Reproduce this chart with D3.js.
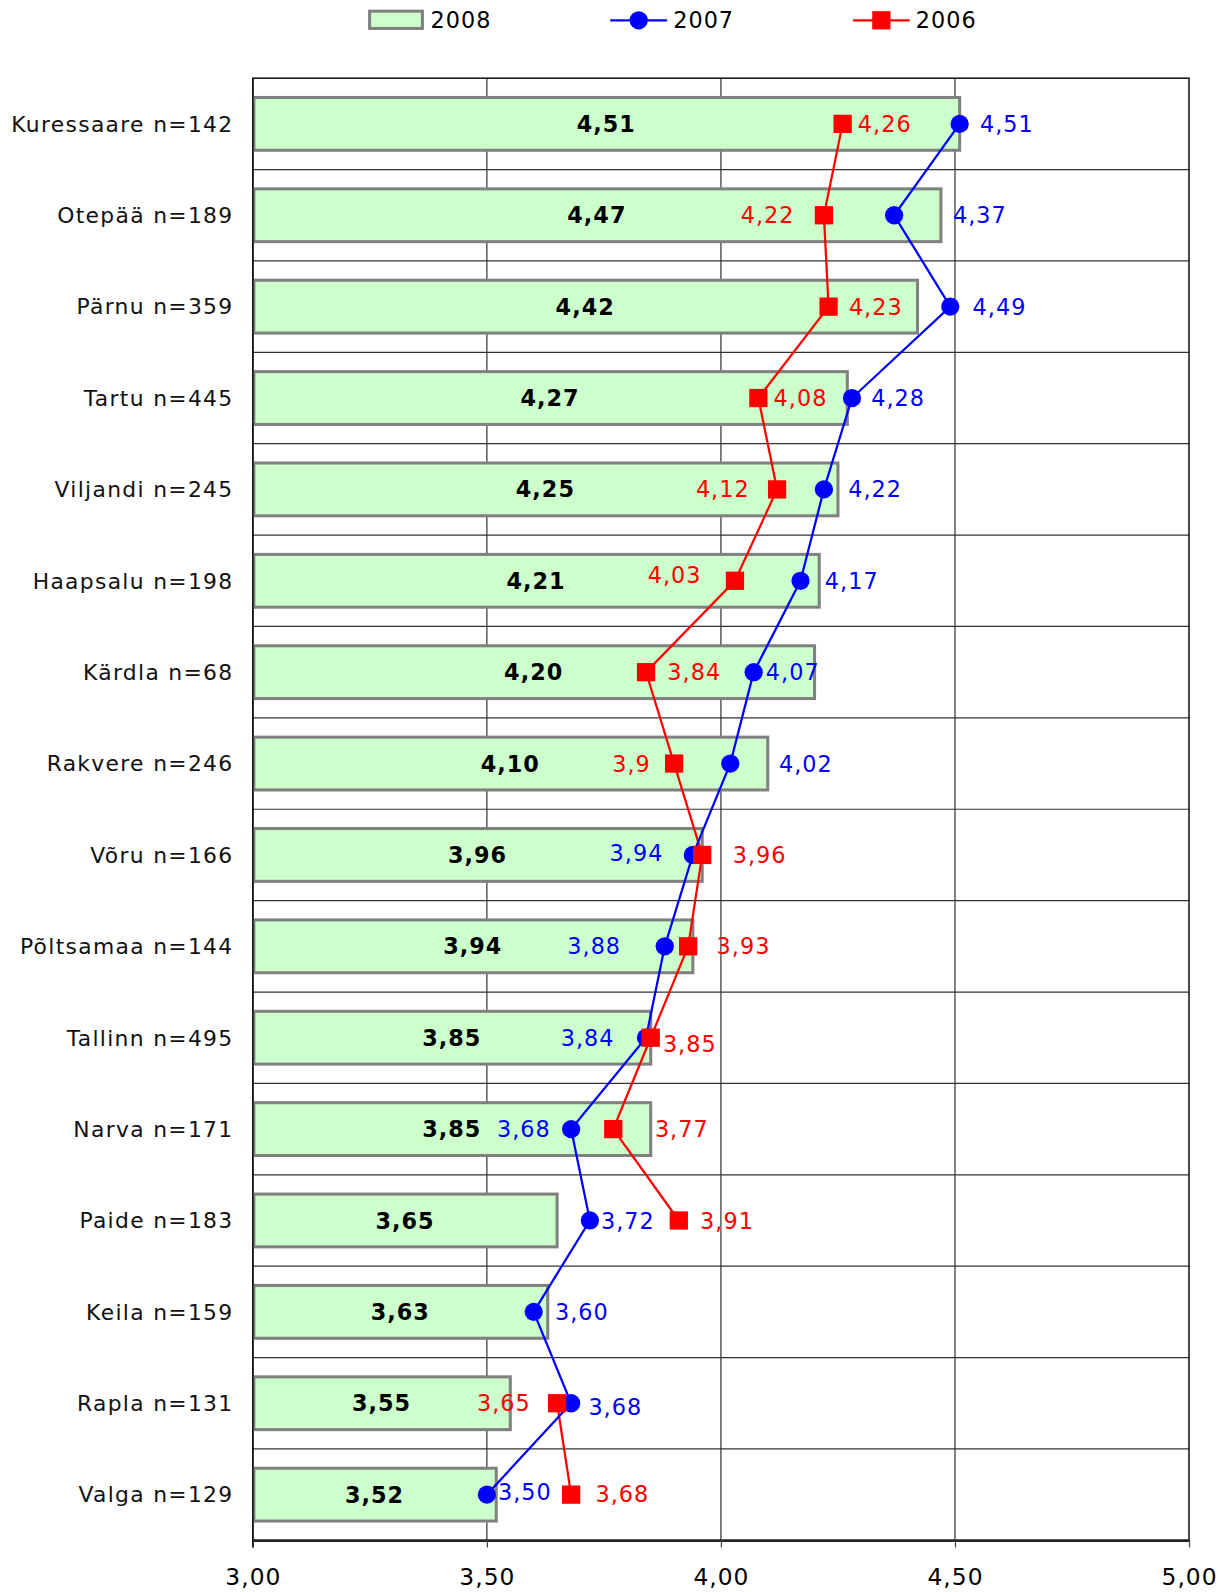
<!DOCTYPE html>
<html><head><meta charset="utf-8">
<script src="https://cdn.jsdelivr.net/npm/d3@7"></script>
<style>html,body{margin:0;padding:0;background:#fff;overflow:hidden;width:1227px;height:1592px;} svg{display:block;font-family:"DejaVu Sans",Verdana,sans-serif;}</style>
</head><body><svg id="c" width="1227" height="1592" viewBox="0 0 1208.4 1567.9" preserveAspectRatio="none"></svg>
<script>
const categories = ["Kuressaare n=142","Otepää n=189","Pärnu n=359","Tartu n=445","Viljandi n=245","Haapsalu n=198","Kärdla n=68","Rakvere n=246","Võru n=166","Põltsamaa n=144","Tallinn n=495","Narva n=171","Paide n=183","Keila n=159","Rapla n=131","Valga n=129"];
const v2008 = [4.51,4.47,4.42,4.27,4.25,4.21,4.20,4.10,3.96,3.94,3.85,3.85,3.65,3.63,3.55,3.52];
const v2007 = [4.51,4.37,4.49,4.28,4.22,4.17,4.07,4.02,3.94,3.88,3.84,3.68,3.72,3.60,3.68,3.50];
const v2006 = [4.26,4.22,4.23,4.08,4.12,4.03,3.84,3.9,3.96,3.93,3.85,3.77,3.91,null,3.65,3.68];
const ticks = [3.00,3.50,4.00,4.50,5.00];
const seriesNames = ["2008","2007","2006"];
// label layout (style only): signed gap in px from marker (+ = text to the right, - = text to the left), and vertical nudge
const gap2007 = [20,58,22,19,24,24,12,48,-29,-43,-31,-20,11,21,17,11];
const nudge2007 = [0,0,0,0,0,0,0,0,-2,0,0,0,0,0,4,-3];
const gap2006 = [15,-29,20,15,-27,-33,21,-23,30,28,12,41,21,0,-26,24];
const nudge2006 = [0,0,0,0,0,-6,0,0,0,0,6,0,0,0,0,-1];

const svg = d3.select("#c");
const L = 249, R = 1171, T = 77, B = 1517;
const x = d3.scaleLinear().domain([3,5]).range([L,R]);
const y = d3.scaleBand().domain(categories).range([T,B]).paddingInner(0).paddingOuter(0);
const bw = y.bandwidth();
const barH = 52;
const cy = c => y(c) + bw/2;
const fmt2 = v => v.toFixed(2).replace(".", ",");
const fmtRaw = v => String(v).replace(".", ",");

// grid
const g = svg.append("g");
categories.forEach((c,i) => {
  if (i>0) g.append("line").attr("x1",L).attr("x2",R).attr("y1",y(c)).attr("y2",y(c)).attr("stroke","#333").attr("stroke-width",1.2);
});
ticks.slice(1,-1).forEach(t => {
  g.append("line").attr("x1",x(t)).attr("x2",x(t)).attr("y1",T).attr("y2",B).attr("stroke","#333").attr("stroke-width",1.2);
});
g.append("rect").attr("x",L).attr("y",T).attr("width",R-L).attr("height",B-T).attr("fill","none").attr("stroke","#111").attr("stroke-width",1.5);

// bars
svg.append("g").selectAll("rect").data(categories).join("rect")
  .attr("x", x(3)+1).attr("y", c => cy(c)-barH/2)
  .attr("width", (c,i) => x(v2008[i]) - x(3) - 1).attr("height", barH)
  .attr("fill","#ccffcc").attr("stroke","#808080").attr("stroke-width",3);

// axis
const ax = svg.append("g").attr("transform",`translate(0,${B})`)
  .call(d3.axisBottom(x).tickValues(ticks).tickFormat(fmt2).tickSize(7).tickSizeOuter(0));
ax.select(".domain").attr("stroke","#222").attr("stroke-width",2.5);
ax.selectAll(".tick line").attr("stroke","#444").attr("stroke-width",1.2);
ax.selectAll(".tick text").attr("font-size",23).attr("letter-spacing","1px").attr("fill","#000")
  .attr("y",28).attr("dy","0.71em").attr("font-family","DejaVu Sans, sans-serif");
svg.append("line").attr("x1",L).attr("x2",L).attr("y1",T).attr("y2",B+7).attr("stroke","#111").attr("stroke-width",1.5);

// category labels
svg.append("g").selectAll("text").data(categories).join("text")
  .attr("x", 230).attr("y", c => cy(c)).attr("dy","0.36em")
  .attr("text-anchor","end").attr("font-size",21.5).attr("letter-spacing","1.3px").attr("fill","#111").text(c => c);

// bar value labels
svg.append("g").selectAll("text").data(categories).join("text")
  .attr("x",(c,i) => (x(3)+x(v2008[i]))/2).attr("y", c => cy(c)).attr("dy","0.36em")
  .attr("text-anchor","middle").attr("font-size",22).attr("letter-spacing","1px").attr("font-weight","bold").attr("fill","#000")
  .text((c,i) => fmt2(v2008[i]));

// lines
const d07 = categories.map((c,i) => ({c, v:v2007[i], gap:gap2007[i], dy:nudge2007[i]}));
const d06 = categories.map((c,i) => ({c, v:v2006[i], gap:gap2006[i], dy:nudge2006[i]}));
const line = d3.line().defined(d => d.v != null).x(d => x(d.v)).y(d => cy(d.c));
svg.append("path").datum(d06).attr("d",line).attr("fill","none").attr("stroke","#ff0000").attr("stroke-width",2.2);
svg.append("path").datum(d07).attr("d",line).attr("fill","none").attr("stroke","#0000ff").attr("stroke-width",2.2);

// markers
svg.append("g").selectAll("circle").data(d07).join("circle")
  .attr("cx", d => x(d.v)).attr("cy", d => cy(d.c)).attr("r",9).attr("fill","#0000ff");
svg.append("g").selectAll("rect").data(d06.filter(d => d.v != null)).join("rect")
  .attr("x", d => x(d.v)-9).attr("y", d => cy(d.c)-9).attr("width",18).attr("height",18).attr("fill","#ff0000");

// series labels
const addLabels = (data, color, f) => {
  svg.append("g").selectAll("text").data(data.filter(d => d.v != null)).join("text")
    .attr("x", d => x(d.v) + d.gap)
    .attr("y", d => cy(d.c) + d.dy).attr("dy","0.36em")
    .attr("text-anchor", d => d.gap >= 0 ? "start" : "end")
    .attr("font-size",22).attr("letter-spacing","1px").attr("fill",color).text(d => f(d.v));
};
addLabels(d06, "#ff0000", fmtRaw);
addLabels(d07, "#0000ff", fmt2);

// legend
const lg = svg.append("g");
lg.append("rect").attr("x",364).attr("y",11).attr("width",52).attr("height",17).attr("fill","#ccffcc").attr("stroke","#808080").attr("stroke-width",3);
lg.append("text").attr("x",424).attr("y",28).attr("font-size",22).attr("letter-spacing","1px").attr("fill","#000").text(seriesNames[0]);
lg.append("line").attr("x1",601).attr("x2",657).attr("y1",20).attr("y2",20).attr("stroke","#0000ff").attr("stroke-width",2.2);
lg.append("circle").attr("cx",629).attr("cy",20).attr("r",9).attr("fill","#0000ff");
lg.append("text").attr("x",663).attr("y",28).attr("font-size",22).attr("letter-spacing","1px").attr("fill","#000").text(seriesNames[1]);
lg.append("line").attr("x1",840).attr("x2",896).attr("y1",20).attr("y2",20).attr("stroke","#ff0000").attr("stroke-width",2.2);
lg.append("rect").attr("x",859).attr("y",11).attr("width",18).attr("height",18).attr("fill","#ff0000");
lg.append("text").attr("x",902).attr("y",28).attr("font-size",22).attr("letter-spacing","1px").attr("fill","#000").text(seriesNames[2]);
</script></body></html>
